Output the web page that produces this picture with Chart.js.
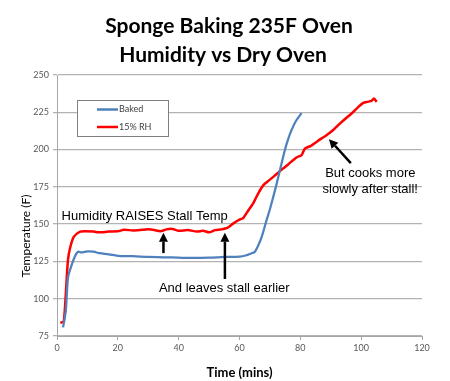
<!DOCTYPE html>
<html>
<head>
<meta charset="utf-8">
<script src="https://cdn.jsdelivr.net/npm/chart.js@4.4.1/dist/chart.umd.min.js"></script>
<style>
  html, body { margin: 0; padding: 0; background: #fff; }
  #wrap { width: 450px; height: 381px; }
</style>
</head>
<body>
<div id="wrap"><canvas id="lineChart"></canvas></div>
<script>
// series data (time in mins, temperature in F)
var bakedTime = [2, 2.9, 3.6, 4.4, 5.8, 6.9, 8, 10, 12, 14, 17, 20, 25, 30, 35, 40, 45, 50, 55, 60, 62, 64, 65, 66, 67.3, 68.9, 70, 71.1, 72.2, 73.3, 74.9, 76, 77.1, 78.5, 80.4];
var bakedTemp = [80.8, 92, 114, 120, 128, 131.5, 131, 131.8, 131.5, 130.5, 129.8, 128.8, 128.5, 128, 127.8, 127.5, 127.3, 127.5, 128, 128.3, 129, 130.5, 131.4, 135, 141.5, 152.7, 160, 168.3, 177, 186.2, 199.6, 207, 213, 219, 224.5];

var rhTime = [1.1, 2.2, 2.9, 3.6, 4.4, 5.5, 7.5, 9, 12, 14, 17, 20, 22, 25, 28, 30, 32, 34, 36, 38, 40, 43, 46, 48, 50, 52, 54, 56, 58, 60, 61.2, 62.5, 64.5, 66, 67.8, 69.5, 71.1, 72.7, 74.3, 76, 77.6, 79, 80.4, 81.5, 83.5, 85.3, 87, 88.6, 91, 93, 95, 97.4, 99, 100.7, 102, 103.4, 104.2, 105.1];
var rhTemp = [83.9, 84.6, 103.6, 125.9, 134.8, 141.5, 144.9, 145.3, 145, 144.5, 145, 145.2, 146.2, 145.8, 146.2, 146.5, 146, 145.2, 146.5, 146.8, 145.5, 146, 145, 145.5, 144.5, 146, 146.5, 147.5, 150.5, 153, 154, 158, 163.9, 170, 176, 179, 181.7, 184.5, 187.3, 190, 192.9, 195, 196.2, 200.7, 202.5, 205.1, 207.5, 209.6, 213.5, 217.4, 221, 225.2, 228.5, 231.3, 232, 232.6, 234.2, 232];

var seriesNames = ['Baked', '15% RH'];
var xTicks = [0, 20, 40, 60, 80, 100, 120];
var yTicks = [75, 100, 125, 150, 175, 200, 225, 250];

function toPoints(xs, ys) {
    return xs.map(function (x, i) { return { x: x, y: ys[i] }; });
}

// text notes and arrows, in data units
var notes = [
    { text: 'Humidity RAISES Stall Temp', x: 1.5, y: 155, align: 'left' },
    { text: 'And leaves stall earlier', x: 33.5, y: 107, align: 'left' },
    { text: 'But cooks more', x: 103, y: 184, align: 'center' },
    { text: 'slowly after stall!', x: 103, y: 173.5, align: 'center' }
];
var arrows = [
    { x1: 35, y1: 130.6, x2: 35, y2: 144.3 },
    { x1: 55.2, y1: 113.2, x2: 55.2, y2: 144.3 },
    { x1: 96.6, y1: 190.9, x2: 89.4, y2: 207 }
];

var extras = {
    id: 'extras',
    afterDraw: function (chart) {
        var ctx = chart.ctx;
        var xs = chart.scales.x, ys = chart.scales.y;
        ctx.save();

        // title
        ctx.fillStyle = '#000';
        ctx.textAlign = 'center';
        ctx.textBaseline = 'alphabetic';
        ctx.font = 'bold 21px Lato';
        ctx.fillText('Sponge Baking 235F Oven', 229, 33);
        ctx.fillText('Humidity vs Dry Oven', 223, 62);

        // y axis title
        ctx.save();
        ctx.translate(26, 236);
        ctx.rotate(-Math.PI / 2);
        ctx.font = '12px Lato';
        ctx.fillStyle = '#000';
        ctx.textBaseline = 'middle';
        ctx.fillText('Temperature (F)', 0, 0);
        ctx.restore();

        // legend box
        ctx.fillStyle = '#fff';
        ctx.fillRect(77.5, 100.5, 91, 36);
        ctx.strokeStyle = '#7f7f7f';
        ctx.lineWidth = 1;
        ctx.strokeRect(77.5, 100.5, 91, 36);
        ctx.font = '9px Lato';
        ctx.textAlign = 'left';
        ctx.textBaseline = 'middle';
        chart.data.datasets.forEach(function (ds, i) {
            var ly = 109.5 + i * 17.5;
            ctx.strokeStyle = ds.borderColor;
            ctx.lineWidth = 2.5;
            ctx.beginPath();
            ctx.moveTo(97, ly);
            ctx.lineTo(118, ly);
            ctx.stroke();
            ctx.fillStyle = '#404040';
            ctx.fillText(ds.label, 119, ly);
        });

        // notes
        ctx.fillStyle = '#000';
        ctx.font = '13px "Liberation Sans", Arial';
        ctx.textBaseline = 'middle';
        notes.forEach(function (n) {
            ctx.textAlign = n.align;
            ctx.fillText(n.text, xs.getPixelForValue(n.x), ys.getPixelForValue(n.y));
        });

        // arrows
        arrows.forEach(function (a) {
            var x1 = xs.getPixelForValue(a.x1), y1 = ys.getPixelForValue(a.y1);
            var x2 = xs.getPixelForValue(a.x2), y2 = ys.getPixelForValue(a.y2);
            var ang = Math.atan2(y2 - y1, x2 - x1);
            var head = 9, wid = 4.5;
            var bx = x2 - head * Math.cos(ang), by = y2 - head * Math.sin(ang);
            ctx.strokeStyle = '#000';
            ctx.lineWidth = 2.5;
            ctx.beginPath();
            ctx.moveTo(x1, y1);
            ctx.lineTo(bx, by);
            ctx.stroke();
            ctx.fillStyle = '#000';
            ctx.beginPath();
            ctx.moveTo(x2, y2);
            ctx.lineTo(bx + wid * Math.sin(ang), by - wid * Math.cos(ang));
            ctx.lineTo(bx - wid * Math.sin(ang), by + wid * Math.cos(ang));
            ctx.closePath();
            ctx.fill();
        });

        ctx.restore();
    }
};

var ctx = document.getElementById('lineChart').getContext('2d');
var lineChart = new Chart(ctx, {
    type: 'line',
    data: {
        datasets: [{
            label: seriesNames[0],
            data: toPoints(bakedTime, bakedTemp),
            borderColor: '#4f81bd',
            borderWidth: 2.25,
            pointRadius: 0,
            tension: 0.3,
            fill: false
        }, {
            label: seriesNames[1],
            data: toPoints(rhTime, rhTemp),
            borderColor: '#ff0000',
            borderWidth: 2.5,
            pointRadius: 0,
            tension: 0.2,
            fill: false
        }]
    },
    options: {
        responsive: true,
        maintainAspectRatio: false,
        animation: false,
        layout: {
            padding: { left: 0, right: 28, top: 75, bottom: 0 }
        },
        plugins: {
            legend: { display: false },
            title: { display: false },
            tooltip: { enabled: false }
        },
        scales: {
            x: {
                type: 'linear',
                min: 0,
                max: 120,
                afterBuildTicks: function (s) { s.ticks = xTicks.map(function (v) { return { value: v }; }); },
                ticks: {
                    color: '#595959',
                    font: { family: 'Lato', size: 9 },
                    padding: 3,
                    maxRotation: 0
                },
                grid: { drawOnChartArea: false, drawTicks: true, tickLength: 4, color: '#a6a6a6' },
                border: { color: '#a6a6a6', width: 1 },
                title: {
                    display: true,
                    text: 'Time (mins)',
                    color: '#000',
                    font: { family: 'Lato', size: 13, weight: 'bold' },
                    padding: { top: 2, bottom: 0 }
                },
                afterFit: function (s) { s.height = 45; }
            },
            y: {
                min: 75,
                max: 250,
                afterBuildTicks: function (s) { s.ticks = yTicks.map(function (v) { return { value: v }; }); },
                ticks: {
                    color: '#595959',
                    font: { family: 'Lato', size: 9 },
                    padding: 4
                },
                grid: { color: '#b3b3b3', lineWidth: 1.3, tickLength: 4 },
                border: { color: '#a6a6a6', width: 1 },
                afterFit: function (s) { s.width = 57; }
            }
        }
    },
    plugins: [extras]
});
</script>
</body>
</html>
